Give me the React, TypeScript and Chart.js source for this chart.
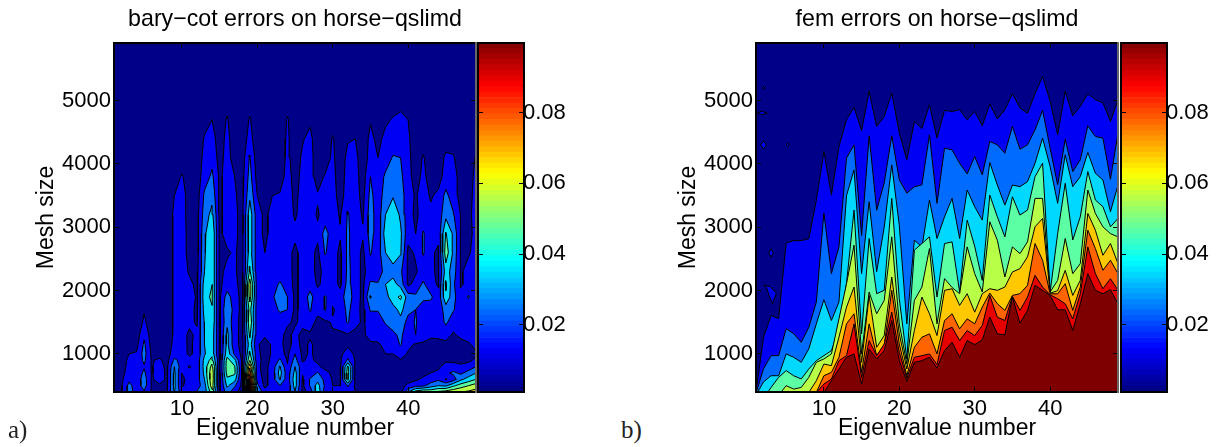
import React, { useEffect, useRef } from "react";
import { Chart, registerables } from "chart.js";

Chart.register(...registerables);

const FONT = "'Liberation Sans', Arial, sans-serif";
const eigenNumbers = Array.from({ length: 49 }, (_, i) => i + 1);
const xTickValues = [10, 20, 30, 40];
const yTickValues = [1000, 2000, 3000, 4000, 5000];
const barTickValues = [0.02, 0.04, 0.06, 0.08];
const bandColors = ["#000088", "#0000f5", "#006cff", "#00d8ff", "#5cffa3", "#b8ff47", "#ffc800", "#ff6400", "#e60000", "#7f0000"];
const contourLevels = [0, 10, 20, 30, 40, 50, 60, 70, 80, 90];

// bary-cot: rows of mesh size, one list per eigenvalue number, errors in thousandths
const meshRows = [400, 500, 600, 700, 800, 900, 1000, 1150, 1300, 1500, 1700, 1900, 2100, 2300, 2600, 2900, 3200, 3500, 3800, 4100, 4400, 4700, 5000, 5900];
const baryErrors = [
  [3,3,3,3,3,3,3,3,3,3,3,3,3,3,3,3,3,3,3,3,3,3,3,3],
  [9,9,8,7,6,6,6,5,4,3,3,3,3,3,3,3,3,3,3,3,3,3,3,3],
  [24,23,18,14,13,12,10,6,4,3,3,3,3,3,3,3,3,3,3,3,3,3,3,3],
  [16,15,14,14,14,13,11,7,5,3,3,3,3,3,3,3,3,3,3,3,3,3,3,3],
  [19,24,25,22,19,22,24,22,18,12,9,5,4,3,3,3,3,3,3,3,3,3,3,3],
  [9,9,9,9,9,9,8,6,5,4,3,3,3,3,3,3,3,3,3,3,3,3,3,3],
  [6,9,13,15,15,12,6,4,3,3,3,3,3,3,3,3,3,3,3,3,3,3,3,3],
  [7,8,9,8,7,6,5,4,3,3,3,3,3,3,3,3,3,3,3,3,3,3,3,3],
  [31,33,33,32,30,22,16,13,12,12,12,12,12,12,12,12,12,10,5,3,3,3,3,3],
  [14,9,8,10,14,17,15,14,14,14,14,14,14,14,14,14,14,14,11,4,3,3,3,3],
  [13,13,13,13,9,14,8,8,8,12,13,14,12,9,7,7,6,6,5,4,3,3,3,3],
  [21,15,14,14,14,14,13,13,12,9,8,9,8,7,6,6,6,5,5,4,3,3,3,3],
  [24,26,30,33,34,33,29,30,30,31,34,36,35,30,29,28,25,22,15,13,11,6,3,3],
  [46,56,58,58,54,44,37,36,36,38,39,42,40,38,38,39,33,27,22,17,14,10,4,3],
  [8,8,8,8,8,8,8,8,8,8,8,8,8,8,8,8,8,8,8,6,5,4,3,3],
  [25,32,38,44,46,44,36,33,33,28,30,25,14,12,9,13,14,14,14,14,13,11,6,3],
  [13,22,34,42,41,33,18,13,13,13,15,14,12,11,11,12,12,11,10,5,4,3,3,3],
  [6,7,7,7,7,7,7,7,7,7,7,7,7,7,7,7,7,7,6,5,4,3,3,3],
  [97,99,92,78,68,50,42,35,42,48,44,54,56,42,35,36,36,28,24,21,14,11,5,3],
  [28,23,16,13,12,13,12,11,12,14,14,14,14,14,14,14,14,10,6,4,3,3,3,3],
  [15,7,7,7,7,7,7,7,11,13,14,14,14,13,10,8,8,6,5,4,3,3,3,3],
  [15,15,15,15,14,12,11,11,12,13,14,19,14,13,13,13,13,10,5,3,3,3,3,3],
  [15,20,31,34,31,22,13,12,12,13,22,24,22,13,13,13,13,11,5,3,3,3,3,3],
  [14,12,14,14,11,9,8,7,8,11,20,20,14,13,13,13,14,14,14,13,12,11,5,3],
  [30,34,36,33,30,24,20,13,12,9,8,8,8,8,8,12,9,8,6,4,3,3,3,3],
  [8,8,8,11,13,9,8,8,8,12,13,13,13,13,13,13,13,13,13,12,9,5,3,3],
  [12,21,21,14,12,12,11,11,9,13,21,24,15,13,13,14,14,14,14,14,13,8,3,3],
  [38,34,27,21,12,8,8,8,8,8,12,13,9,8,8,12,9,11,6,4,3,3,3,3],
  [14,18,17,13,7,6,7,7,7,8,21,21,12,12,21,24,14,13,11,5,3,3,3,3],
  [12,10,9,8,8,8,7,8,9,11,9,13,14,14,14,14,14,14,13,12,11,5,3,3],
  [12,10,9,8,8,8,8,8,8,14,13,14,8,8,8,11,9,6,5,4,3,3,3,3],
  [14,21,44,46,42,22,15,8,9,21,23,27,24,23,22,22,21,15,14,13,9,4,3,3],
  [10,8,8,8,8,8,8,8,8,12,13,14,14,14,14,14,14,14,14,13,10,4,3,3],
  [9,8,8,8,8,8,8,8,9,9,8,8,8,8,8,11,9,7,5,4,3,3,3,3],
  [10,8,8,9,8,8,8,9,12,13,21,31,22,14,21,24,25,23,20,14,13,9,4,3],
  [9,8,8,8,8,8,8,9,13,13,21,23,21,14,14,14,14,14,13,10,7,4,3,3],
  [7,7,8,8,8,8,10,12,14,21,23,26,30,24,30,35,30,25,22,14,13,8,3,3],
  [7,7,8,8,8,8,10,13,18,24,26,36,34,26,36,37,38,29,27,21,13,11,4,3],
  [7,7,7,7,8,9,14,21,22,27,33,42,26,22,31,32,28,25,22,20,14,13,6,3],
  [30,12,7,7,7,8,9,12,14,16,23,25,8,8,8,13,14,14,14,13,12,10,4,3],
  [45,17,8,8,7,8,9,9,20,21,20,22,13,9,11,10,8,9,5,4,3,3,3,3],
  [50,18,12,7,7,7,8,9,13,13,13,23,22,14,21,21,14,14,13,11,5,3,3,3],
  [48,25,14,10,8,7,7,8,11,13,14,22,13,12,12,13,12,9,5,4,3,3,3,3],
  [52,30,18,12,8,7,7,7,12,13,13,13,9,8,8,13,14,12,6,4,3,3,3,3],
  [55,28,9,18,15,8,8,8,13,22,25,38,42,35,46,41,27,23,14,12,5,3,3,3],
  [58,38,15,22,14,8,8,8,9,13,21,23,22,25,28,28,21,14,14,11,5,3,3,3],
  [60,45,28,18,12,7,7,7,12,13,13,13,9,9,8,9,9,7,6,4,3,3,3,3],
  [62,50,34,24,14,8,8,9,13,13,13,21,13,13,9,8,8,6,5,4,3,3,3,3],
  [64,55,40,30,20,12,9,12,13,13,13,13,13,13,13,12,13,14,13,11,5,3,3,3],
];

// fem: height (mesh size) of each error contour at each eigenvalue number
const femLevel1 = [400,1265,1608,1560,2750,2790,2790,2820,3430,4197,3510,4275,4700,4895,4525,5147,4593,4750,5120,4490,4065,4672,4560,4935,4410,4846,4830,4857,4700,4830,4604,4947,4710,4857,5110,4884,4800,5110,5380,4990,4460,5147,4762,4910,5110,5016,4965,4672,5016];
const femLevel2 = [380,767,974,974,1400,1320,1185,1420,1820,3225,2270,2690,4095,4300,2870,4445,3270,3700,4445,3750,3540,3640,3670,4460,3378,4250,4223,4012,3843,4117,3827,4355,4302,4170,4593,4234,4302,4540,4846,4250,3668,4392,3880,4065,4603,4434,4408,3758,4487];
const femLevel3 = [350,560,657,657,1001,948,869,1080,1476,1857,1529,1820,3500,3906,2269,3404,2300,3000,3985,3034,1476,2797,2690,3430,2823,3166,3457,2823,3589,3325,3114,4022,3668,3351,3668,3642,3721,4012,4408,3959,3378,4144,3642,3800,4181,3853,3748,3246,3668];
const femLevel4 = [300,300,472,631,737,657,605,763,895,975,1053,1370,2110,3272,1318,2823,1952,2005,3457,1872,921,2639,2744,2850,1899,2744,2770,1978,3114,2700,2163,3510,3166,2849,3483,3193,3272,3800,4012,1978,2900,3695,2800,3166,3880,3431,3325,3008,3140];
const femLevel5 = [300,300,300,350,499,446,472,631,869,921,1001,1555,2110,2718,1001,1978,1635,1846,2850,1476,842,1846,2057,2665,1476,2190,2050,1952,2691,2269,1978,3087,2797,2216,2691,2585,2770,3457,3457,1978,2163,2823,2269,2427,3589,3219,3008,2900,2849];
const femLevel6 = [300,300,300,300,300,300,300,393,578,842,816,1265,1740,2057,869,1925,1106,1291,2216,1318,763,1371,1899,1635,1291,2005,2030,1767,1952,1661,1952,2031,2005,2057,2295,2348,2533,3008,3140,1960,2000,2321,1925,2163,3219,2955,2559,2744,2427];
const femLevel7 = [300,300,300,300,300,300,300,300,393,657,710,948,1476,1635,710,1476,974,1133,2005,1159,657,1106,1265,1318,1001,1529,1635,1397,1555,1476,1740,1962,1793,1688,1925,1952,2084,2744,2480,1950,1950,2110,1688,2057,2955,2665,2321,2480,2269];
const femLevel8 = [300,300,300,300,300,300,300,300,393,525,605,895,974,1476,631,1212,974,1159,1661,1027,620,948,974,1001,832,1371,1423,1212,1370,1291,1450,1925,1582,1529,1909,1688,1899,2242,2057,1935,1872,1793,1555,1952,2691,2269,2031,2189,2005];
const femLevel9 = [300,300,300,300,300,300,300,300,300,393,578,763,948,1001,525,1080,921,1054,1529,895,568,869,895,948,779,1054,1186,948,1212,1149,1223,1582,1318,1302,1899,1487,1688,2084,2005,1925,1698,1698,1371,1793,2269,2005,1952,2015,1793];
const femFloor = eigenNumbers.map(() => 5900);
const femCurves = [femFloor, femLevel1, femLevel2, femLevel3, femLevel4, femLevel5, femLevel6, femLevel7, femLevel8, femLevel9];

const femIslandsX = [[2.1,2.9,3.7,3.2,2.8,2.4],[1.6,2,2.4,2],[5,5.2,5.4,5.2],[1.1,1.8,2.5,1.8],[1.85,2,2.15,2],[2.7,3,3.3,3]];
const femIslandsY = [[2090,2060,1960,1800,1900,2050],[4300,4360,4300,4240],[4300,4330,4300,4270],[4810,4830,4800,4780],[5200,5225,5200,5175],[2595,2660,2595,2530]];

function jet(t: number) {
  const c = (v: number) => Math.round(255 * Math.max(0, Math.min(1, v)));
  return `rgb(${c(1.5 - Math.abs(4 * t - 3))},${c(1.5 - Math.abs(4 * t - 2))},${c(1.5 - Math.abs(4 * t - 1))})`;
}

type Pt = { x: number; y: number };

function contourLoops(xs: number[], ys: number[], z: number[][], level: number): Pt[][] {
  const X = [xs[0] - 0.01, ...xs, xs[xs.length - 1] + 0.01];
  const Y = [ys[0] - 1, ...ys, ys[ys.length - 1] + 1];
  const v = (i: number, j: number) => (i === 0 || j === 0 || i === X.length - 1 || j === Y.length - 1 ? -1000 : z[i - 1][j - 1]) - level;
  const hEdge = (i: number, j: number) => `h${i},${j}`;
  const vEdge = (i: number, j: number) => `v${i},${j}`;
  const next = new Map<string, string>();
  const pts = new Map<string, Pt>();
  const hPt = (i: number, j: number) => {
    const a = v(i, j), b = v(i + 1, j);
    return { x: X[i] + (X[i + 1] - X[i]) * (a / (a - b)), y: Y[j] };
  };
  const vPt = (i: number, j: number) => {
    const a = v(i, j), b = v(i, j + 1);
    return { x: X[i], y: Y[j] + (Y[j + 1] - Y[j]) * (a / (a - b)) };
  };
  for (let i = 0; i < X.length - 1; i++) {
    for (let j = 0; j < Y.length - 1; j++) {
      const a = v(i, j), b = v(i + 1, j), c = v(i + 1, j + 1), d = v(i, j + 1);
      const mask = (a >= 0 ? 1 : 0) + (b >= 0 ? 2 : 0) + (c >= 0 ? 4 : 0) + (d >= 0 ? 8 : 0);
      if (mask === 0 || mask === 15) continue;
      const center = (a + b + c + d) / 4 >= 0;
      const table: Record<number, number[][]> = {
        1: [[0, 3]], 2: [[1, 0]], 4: [[2, 1]], 8: [[3, 2]], 3: [[1, 3]], 6: [[2, 0]], 12: [[3, 1]], 9: [[0, 2]],
        7: [[2, 3]], 14: [[3, 0]], 13: [[0, 1]], 11: [[1, 2]],
        5: center ? [[0, 1], [2, 3]] : [[0, 3], [2, 1]],
        10: center ? [[3, 0], [1, 2]] : [[1, 0], [3, 2]],
      };
      const id = (e: number) => {
        if (e === 0) { const k = hEdge(i, j); if (!pts.has(k)) pts.set(k, hPt(i, j)); return k; }
        if (e === 2) { const k = hEdge(i, j + 1); if (!pts.has(k)) pts.set(k, hPt(i, j + 1)); return k; }
        if (e === 3) { const k = vEdge(i, j); if (!pts.has(k)) pts.set(k, vPt(i, j)); return k; }
        const k = vEdge(i + 1, j); if (!pts.has(k)) pts.set(k, vPt(i + 1, j)); return k;
      };
      for (const [s, t] of table[mask]) next.set(id(s), id(t));
    }
  }
  const loops: Pt[][] = [];
  const seen = new Set<string>();
  for (const start of next.keys()) {
    if (seen.has(start)) continue;
    const loop: Pt[] = [];
    let cur: string | undefined = start;
    while (cur && !seen.has(cur)) {
      seen.add(cur);
      loop.push(pts.get(cur)!);
      cur = next.get(cur);
    }
    loop.push(loop[0]);
    loops.push(loop);
  }
  return loops;
}

function signedArea(loop: Pt[]) {
  let s = 0;
  for (let i = 0; i < loop.length - 1; i++) s += (loop[i].x * loop[i + 1].y - loop[i + 1].x * loop[i].y) * 0.000477;
  return s / 2;
}

function baryDatasets() {
  const items: { loop: Pt[]; area: number; color: string }[] = [];
  contourLevels.forEach((lvl, idx) => {
    for (const loop of contourLoops(eigenNumbers, meshRows, baryErrors, lvl + 0.01)) {
      const a = signedArea(loop);
      items.push({ loop, area: Math.abs(a), color: a > 0 ? bandColors[idx] : bandColors[Math.max(0, idx - 1)] });
    }
  });
  items.sort((p, q) => q.area - p.area);
  return items.map((it, i) => ({
    data: it.loop,
    showLine: true,
    fill: "shape",
    backgroundColor: it.color,
    borderColor: "#000",
    borderWidth: 1,
    pointRadius: 0,
    tension: 0,
    order: -i,
  }));
}

function femDatasets() {
  const curves = femCurves.map((c, idx) => ({
    data: c.map((y, i) => ({ x: eigenNumbers[i], y })),
    showLine: true,
    fill: "start",
    backgroundColor: bandColors[idx],
    borderColor: idx === 0 ? "rgba(0,0,0,0)" : "#000",
    borderWidth: 1,
    pointRadius: 0,
    tension: 0,
    order: -idx,
  }));
  const islands = femIslandsX.map((xs, n) => ({
    data: [...xs, xs[0]].map((x, i) => ({ x, y: femIslandsY[n][i % xs.length] })),
    showLine: true,
    fill: "shape",
    backgroundColor: bandColors[1],
    borderColor: "#000",
    borderWidth: 1,
    pointRadius: 0,
    tension: 0,
    order: -20 - n,
  }));
  return [...curves, ...islands];
}

const fixed = (size: number, vertical = false) => (scale: any) => {
  if (vertical) scale.width = size; else scale.height = size;
};
const setTicks = (values: number[]) => (scale: any) => {
  scale.ticks = values.map((value) => ({ value }));
};
const frameGrid = { drawOnChartArea: false, drawTicks: true, tickLength: -5, tickColor: "#000", tickWidth: 1, z: 1 };
const tickFont = { family: FONT, size: 22 };
const labelFont = { family: FONT, size: 23 };

function plotOptions(title: string) {
  const tickText = (v: any) => String(v);
  return {
    responsive: false,
    animation: false as const,
    events: [] as string[],
    layout: { padding: 0 },
    plugins: { legend: { display: false }, tooltip: { enabled: false }, title: { display: false } },
    scales: {
      x: {
        type: "linear", position: "bottom", min: 1, max: 49,
        afterFit: fixed(55), afterBuildTicks: setTicks(xTickValues),
        grid: frameGrid, border: { color: "#000", width: 2, z: 2 },
        ticks: { font: tickFont, color: "#000", padding: 9, maxRotation: 0, autoSkip: false, callback: tickText },
        title: { display: true, text: "Eigenvalue number", font: labelFont, color: "#000", padding: { top: 0, bottom: 5 } },
      },
      y: {
        type: "linear", position: "left", min: 400, max: 5910,
        afterFit: fixed(114, true), afterBuildTicks: setTicks(yTickValues),
        grid: frameGrid, border: { color: "#000", width: 2, z: 2 },
        ticks: { font: tickFont, color: "#000", padding: 8, autoSkip: false, callback: tickText },
        title: { display: true, text: "Mesh size", font: labelFont, color: "#000", padding: { top: 33, bottom: 0 } },
      },
      x2: {
        type: "linear", position: "top", min: 1, max: 49,
        afterFit: fixed(43), afterBuildTicks: setTicks(xTickValues),
        grid: frameGrid, border: { color: "#000", width: 2, z: 2 },
        ticks: { display: false },
        title: { display: true, text: title, font: { family: FONT, size: 23.2 }, color: "#000", padding: { top: 6, bottom: 0 } },
      },
      y2: {
        type: "linear", position: "right", min: 400, max: 5910,
        afterFit: fixed(2, true), afterBuildTicks: setTicks(yTickValues),
        grid: frameGrid, border: { color: "#666", width: 2, z: 2 },
        ticks: { display: false },
      },
    },
  };
}

function barConfig() {
  const lo = 0.001, hi = 0.0997, n = 64;
  const steps = Array.from({ length: n }, (_, i) => i);
  return {
    type: "bar" as const,
    data: {
      labels: [""],
      datasets: steps.map((i) => ({
        data: [[lo + ((hi - lo) * i) / n, lo + ((hi - lo) * (i + 1)) / n]],
        backgroundColor: jet((i + 0.5) / n),
        borderWidth: 0,
        barPercentage: 1,
        categoryPercentage: 1,
        grouped: false,
      })),
    },
    options: {
      responsive: false,
      animation: false as const,
      events: [] as string[],
      layout: { padding: 0 },
      plugins: { legend: { display: false }, tooltip: { enabled: false } },
      scales: {
        x: { type: "category", position: "bottom", afterFit: fixed(55), grid: { display: false }, border: { color: "#000", width: 2, z: 2 }, ticks: { display: false } },
        xt: { type: "linear", position: "top", min: 0, max: 1, afterFit: fixed(43), grid: { display: false }, border: { color: "#000", width: 2, z: 2 }, ticks: { display: false } },
        y: {
          type: "linear", position: "right", min: lo, max: hi,
          afterFit: fixed(46, true), afterBuildTicks: setTicks(barTickValues),
          grid: frameGrid, border: { color: "#000", width: 2, z: 2 },
          ticks: { font: tickFont, color: "#000", padding: 4, autoSkip: false, callback: (v: any) => String(v) },
        },
        yl: {
          type: "linear", position: "left", min: lo, max: hi,
          afterFit: fixed(8, true), afterBuildTicks: setTicks(barTickValues),
          grid: frameGrid, border: { color: "#000", width: 2, z: 2 },
          ticks: { display: false },
        },
      },
    },
  };
}

function Panel({ left, width, make }: { left: number; width: number; make: () => any }) {
  const ref = useRef<HTMLCanvasElement>(null);
  useEffect(() => {
    const chart = new Chart(ref.current!, make());
    return () => chart.destroy();
  }, []);
  return <canvas ref={ref} width={width} height={447} style={{ position: "absolute", left, top: 0, width, height: 447 }} />;
}

const letterStyle: React.CSSProperties = { position: "absolute", top: 416, fontFamily: "'Liberation Serif', serif", fontSize: 25, lineHeight: "28px", color: "#222" };

export default function App() {
  return (
    <div style={{ position: "absolute", left: 0, top: 0, width: 1218, height: 447, overflow: "hidden", background: "#fff" }}>
      <Panel left={0} width={478} make={() => ({ type: "scatter", data: { datasets: baryDatasets() }, options: plotOptions("bary\u2212cot errors on horse\u2212qslimd") })} />
      <Panel left={470} width={100} make={barConfig} />
      <Panel left={642} width={478} make={() => ({ type: "scatter", data: { datasets: femDatasets() }, options: plotOptions("fem errors on horse\u2212qslimd") })} />
      <Panel left={1113} width={100} make={barConfig} />
      <div style={{ ...letterStyle, left: 8 }}>a)</div>
      <div style={{ ...letterStyle, left: 621 }}>b)</div>
    </div>
  );
}
